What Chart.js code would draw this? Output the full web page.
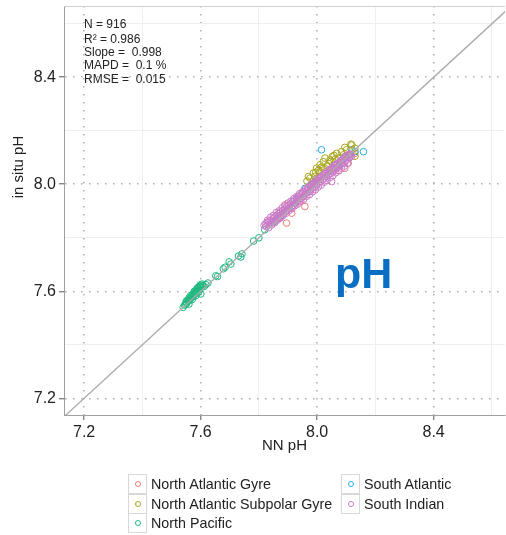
<!DOCTYPE html>
<html>
<head>
<meta charset="utf-8">
<script src="https://cdn.jsdelivr.net/npm/chart.js@4.4.1/dist/chart.umd.min.js"></script>
<style>
  html, body { margin: 0; background: #fff; font-family: "Liberation Sans", Arial, sans-serif; overflow: hidden; }
  #wrap { position: relative; width: 506px; height: 535px; overflow: hidden; }
  #phChart { display: block; }
  #legend .key { position: absolute; width: 19px; height: 20px; border: 1px solid #d8d8d8; box-sizing: border-box; }
  #legend .dot { position: absolute; left: 6px; top: 6px; width: 6px; height: 6px; border-radius: 50%; border: 1px solid; box-sizing: border-box; }
  #legend .lbl { position: absolute; font-size: 14.3px; line-height: 20px; color: #222; white-space: nowrap; }
</style>
</head>
<body>
<div id="wrap">
  <canvas id="phChart" width="510" height="535"></canvas>
  <div id="legend"></div>
</div>
<script>
// regions (legend order)
const regionNames = ['North Atlantic Gyre', 'North Atlantic Subpolar Gyre', 'North Pacific', 'South Atlantic', 'South Indian'];
const regionColors = ['#EE7B72', '#A8A51E', '#1DB97F', '#25AEE6', '#C97AC6'];

// NN pH (x), in situ pH (y) pairs
const northAtlanticGyre = [
  [7.889, 7.923], [7.895, 7.855], [7.913, 7.892], [7.958, 7.917], [7.940, 7.935],
  [8.095, 8.060], [8.107, 8.079], [8.130, 8.116], [8.075, 8.052], [7.872, 7.874]
];
const northAtlanticSubpolarGyre = [
  [7.970, 8.029], [7.975, 8.023], [7.986, 8.010], [7.987, 8.042], [7.998, 8.061],
  [8.010, 8.048], [8.010, 8.073], [8.021, 8.085], [8.027, 8.098], [8.033, 8.067],
  [8.044, 8.091], [8.052, 8.104], [8.067, 8.116], [8.073, 8.098], [8.084, 8.122],
  [8.090, 8.110], [8.101, 8.129], [8.107, 8.110], [8.116, 8.150], [8.119, 8.147],
  [8.130, 8.135], [8.130, 8.105], [7.992, 8.030], [8.004, 8.052], [8.040, 8.078],
  [8.058, 8.108], [7.980, 8.000], [8.015, 8.064], [7.965, 8.012], [7.995, 8.045],
  [8.020, 8.060], [8.048, 8.086], [8.062, 8.094], [8.095, 8.138]
];
const northPacific = [
  [7.540, 7.540], [7.545, 7.548], [7.548, 7.552], [7.552, 7.555], [7.550, 7.560],
  [7.556, 7.562], [7.558, 7.568], [7.562, 7.566], [7.565, 7.572], [7.560, 7.575],
  [7.568, 7.578], [7.570, 7.583], [7.574, 7.580], [7.575, 7.588], [7.578, 7.592],
  [7.582, 7.590], [7.580, 7.597], [7.585, 7.600], [7.588, 7.596], [7.590, 7.605],
  [7.586, 7.608], [7.592, 7.612], [7.595, 7.606], [7.596, 7.617], [7.600, 7.620],
  [7.598, 7.624], [7.603, 7.615], [7.605, 7.627], [7.601, 7.590], [7.608, 7.622],
  [7.612, 7.618], [7.618, 7.625], [7.625, 7.631], [7.652, 7.658], [7.658, 7.655],
  [7.678, 7.684], [7.684, 7.690], [7.698, 7.710], [7.704, 7.702], [7.730, 7.732],
  [7.738, 7.728], [7.742, 7.740], [7.782, 7.788], [7.800, 7.800], [7.820, 7.830],
  [7.553, 7.566], [7.566, 7.585], [7.578, 7.600], [7.590, 7.614], [7.560, 7.552],
  [7.572, 7.570], [7.584, 7.584], [7.594, 7.598]
];
const southAtlantic = [
  [8.015, 8.129], [8.159, 8.122], [8.119, 8.129], [7.958, 7.985], [7.935, 7.948],
  [7.924, 7.929], [7.998, 8.017], [8.095, 8.104], [8.078, 8.073], [8.130, 8.122],
  [7.855, 7.861], [7.975, 7.995], [8.110, 8.100], [8.060, 8.070]
];
const southIndian = [
  [7.818, 7.846], [7.822, 7.852], [7.825, 7.842], [7.828, 7.858], [7.832, 7.848],
  [7.835, 7.862], [7.838, 7.852], [7.842, 7.866], [7.845, 7.855], [7.848, 7.872],
  [7.852, 7.860], [7.855, 7.878], [7.858, 7.868], [7.862, 7.884], [7.865, 7.872],
  [7.868, 7.890], [7.872, 7.878], [7.875, 7.896], [7.878, 7.884], [7.882, 7.902],
  [7.885, 7.890], [7.888, 7.906], [7.892, 7.898], [7.895, 7.914], [7.898, 7.904],
  [7.902, 7.922], [7.905, 7.910], [7.908, 7.926], [7.912, 7.916], [7.915, 7.934],
  [7.918, 7.922], [7.922, 7.940], [7.925, 7.928], [7.928, 7.946], [7.932, 7.936],
  [7.935, 7.954], [7.938, 7.942], [7.942, 7.960], [7.945, 7.948], [7.948, 7.966],
  [7.952, 7.954], [7.955, 7.972], [7.958, 7.960], [7.962, 7.978], [7.965, 7.968],
  [7.968, 7.986], [7.972, 7.972], [7.975, 7.992], [7.978, 7.980], [7.982, 7.998],
  [7.985, 7.986], [7.988, 8.004], [7.992, 7.992], [7.995, 8.010], [7.998, 7.998],
  [8.002, 8.016], [8.005, 8.004], [8.008, 8.022], [8.012, 8.010], [8.015, 8.028],
  [8.018, 8.016], [8.022, 8.034], [8.025, 8.022], [8.028, 8.040], [8.032, 8.030],
  [8.035, 8.046], [8.038, 8.034], [8.042, 8.052], [8.045, 8.040], [8.048, 8.058],
  [8.052, 8.046], [8.055, 8.064], [8.058, 8.052], [8.062, 8.070], [8.065, 8.058],
  [8.068, 8.076], [8.072, 8.064], [8.075, 8.082], [8.078, 8.070], [8.082, 8.088],
  [8.085, 8.076], [8.088, 8.094], [8.092, 8.082], [8.095, 8.100], [8.098, 8.088],
  [8.102, 8.104], [8.105, 8.094], [8.108, 8.108], [8.112, 8.100], [8.115, 8.112],
  [8.118, 8.104], [8.050, 8.010], [8.061, 8.061],
  [7.830, 7.866], [7.840, 7.877], [7.850, 7.884], [7.860, 7.895], [7.870, 7.901],
  [7.880, 7.912], [7.890, 7.919], [7.900, 7.930], [7.910, 7.937], [7.920, 7.947],
  [7.930, 7.954], [7.940, 7.965], [7.950, 7.972], [7.960, 7.983], [7.970, 7.989],
  [7.980, 8.000], [7.990, 8.007], [8.000, 8.018], [8.010, 8.025], [8.020, 8.035],
  [8.030, 8.042], [8.040, 8.053], [8.050, 8.060], [8.060, 8.071], [8.070, 8.077],
  [8.080, 8.088], [8.090, 8.095], [8.100, 8.106], [8.110, 8.113],
  [7.834, 7.838], [7.844, 7.848], [7.854, 7.856], [7.864, 7.866], [7.874, 7.874],
  [7.884, 7.884], [7.894, 7.892], [7.904, 7.902], [7.914, 7.910], [7.924, 7.920],
  [7.934, 7.926], [7.944, 7.937], [7.954, 7.944], [7.964, 7.955], [7.974, 7.961],
  [7.984, 7.972], [7.994, 7.979], [8.004, 7.990], [8.014, 7.997], [8.024, 8.008],
  [8.034, 8.014], [8.044, 8.025], [8.054, 8.032], [8.064, 8.043], [8.074, 8.050],
  [8.084, 8.060], [8.094, 8.068], [8.104, 8.078]
];
const regionPoints = [northAtlanticGyre, northAtlanticSubpolarGyre, northPacific, southAtlantic, southIndian];
// which series lies on top (lower = drawn later)
const regionOrder = [4, 1, 2, 3, 0];

// 1:1 line ends
const oneToOne = [7.0, 8.8];

const statLines = ['N = 916', 'R\u00B2 = 0.986', 'Slope =  0.998', 'MAPD =  0.1 %', 'RMSE =  0.015'];

const FONT = '"Liberation Sans", Arial, sans-serif';

function isMajor(v) {
  const k = Math.round(v * 10);
  return k % 4 === 0;
}

// texts drawn onto the plot
const textPlugin = {
  id: 'texts',
  afterDatasetsDraw(chart) {
    const ctx = chart.ctx;
    const area = chart.chartArea;
    ctx.save();
    // top panel line
    ctx.strokeStyle = '#d0d0d0';
    ctx.lineWidth = 1;
    ctx.beginPath();
    ctx.moveTo(area.left, area.top + 0.5);
    ctx.lineTo(area.right, area.top + 0.5);
    ctx.stroke();

    // big pH label
    ctx.fillStyle = '#0A6FC2';
    ctx.font = 'bold 43px ' + FONT;
    ctx.textAlign = 'left';
    ctx.textBaseline = 'alphabetic';
    ctx.fillText('pH', 335, 288);

    // statistics
    ctx.fillStyle = '#222';
    ctx.font = '12px ' + FONT;
    const ys = [28, 43, 56, 68.5, 83];
    statLines.forEach((t, i) => ctx.fillText(t, 84, ys[i]));

    // y axis title
    ctx.font = '15px ' + FONT;
    ctx.textAlign = 'center';
    ctx.textBaseline = 'middle';
    ctx.translate(19, 167);
    ctx.rotate(-Math.PI / 2);
    ctx.fillText('in situ pH', 0, 0);
    ctx.restore();
  }
};

const datasets = regionNames.map((name, i) => ({
  type: 'scatter',
  label: name,
  data: regionPoints[i].map(p => ({ x: p[0], y: p[1] })),
  borderColor: regionColors[i],
  backgroundColor: 'rgba(0,0,0,0)',
  pointStyle: 'circle',
  pointRadius: 3.3,
  borderWidth: 1,
  order: regionOrder[i]
}));

datasets.push({
  type: 'scatter',
  label: '1:1',
  data: oneToOne.map(v => ({ x: v, y: v })),
  showLine: true,
  borderColor: '#ababab',
  borderWidth: 1.3,
  pointRadius: 0,
  order: -1
});

const gridColor = ctx => (ctx.tick && isMajor(ctx.tick.value)) ? '#b4b4b4' : '#efefef';
const gridWidth = ctx => (ctx.tick && isMajor(ctx.tick.value)) ? 1.6 : 1;
const gridDash = ctx => (ctx.tick && isMajor(ctx.tick.value)) ? [1.6, 6.4] : [];
const tickColor = ctx => (ctx.tick && isMajor(ctx.tick.value)) ? '#555' : 'rgba(0,0,0,0)';
const tickLabel = v => isMajor(v) ? v.toFixed(1) : '';

new Chart(document.getElementById('phChart'), {
  data: { datasets: datasets },
  options: {
    responsive: false,
    animation: false,
    layout: { padding: { top: 6, right: 0, left: 0, bottom: 76 } },
    plugins: {
      legend: { display: false },
      tooltip: { enabled: false }
    },
    scales: {
      x: {
        type: 'linear',
        min: 7.131,
        max: 8.645,
        afterFit: s => { s.height = 44; s.paddingLeft = 0; s.paddingRight = 0; },
        ticks: {
          stepSize: 0.2,
          includeBounds: false,
          autoSkip: false,
          maxRotation: 0,
          padding: 3,
          color: '#222',
          font: { family: FONT, size: 16 },
          callback: tickLabel
        },
        grid: { color: gridColor, lineWidth: gridWidth, tickColor: tickColor, tickLength: 5, tickWidth: 1 },
        border: { display: true, color: '#a0a0a0', width: 1, dash: gridDash },
        title: { display: true, text: 'NN pH', color: '#222', font: { family: FONT, size: 15 } }
      },
      y: {
        type: 'linear',
        min: 7.1376,
        max: 8.6665,
        afterFit: s => { s.width = 64; s.paddingTop = 0; s.paddingBottom = 0; },
        ticks: {
          stepSize: 0.2,
          includeBounds: false,
          autoSkip: false,
          padding: 3,
          color: '#222',
          font: { family: FONT, size: 16 },
          callback: tickLabel
        },
        grid: { color: gridColor, lineWidth: gridWidth, tickColor: tickColor, tickLength: 5, tickWidth: 1 },
        border: { display: true, color: '#a0a0a0', width: 1, dash: gridDash }
      }
    }
  },
  plugins: [textPlugin]
});

// legend below the plot, filled column by column
const legend = document.getElementById('legend');
const colX = [128, 341];
const rowMid = [484, 503.5, 523];
regionNames.forEach((name, i) => {
  const col = i < 3 ? 0 : 1;
  const row = i < 3 ? i : i - 3;
  const key = document.createElement('div');
  key.className = 'key';
  key.style.left = colX[col] + 'px';
  key.style.top = (rowMid[row] - 10) + 'px';
  const dot = document.createElement('div');
  dot.className = 'dot';
  dot.style.borderColor = regionColors[i];
  key.appendChild(dot);
  legend.appendChild(key);
  const lbl = document.createElement('div');
  lbl.className = 'lbl';
  lbl.style.left = (colX[col] + 23) + 'px';
  lbl.style.top = (rowMid[row] - 10) + 'px';
  lbl.textContent = name;
  legend.appendChild(lbl);
});
</script>
</body>
</html>
